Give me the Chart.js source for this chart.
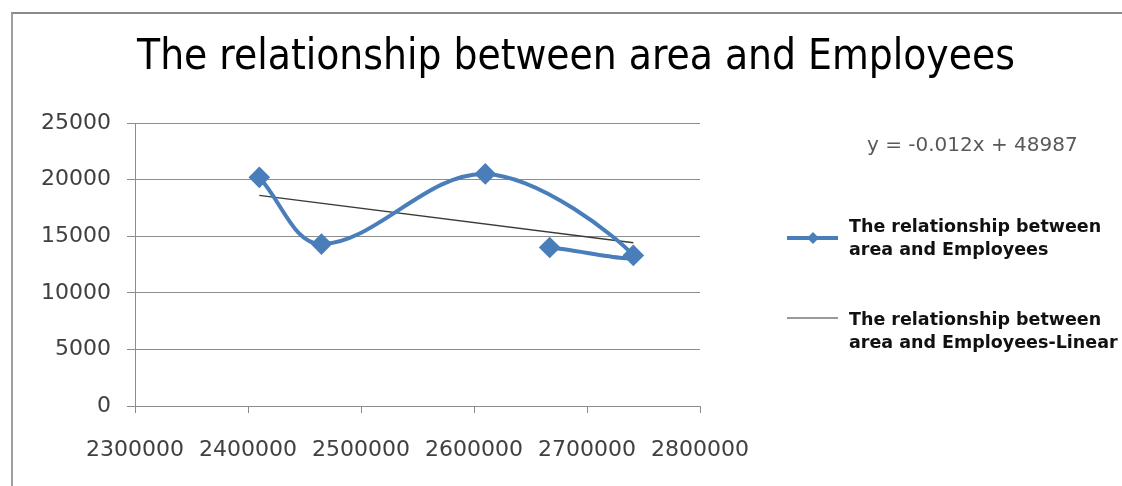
<!DOCTYPE html>
<html>
<head>
<meta charset="utf-8">
<script src="https://cdn.jsdelivr.net/npm/chart.js@4.4.1/dist/chart.umd.min.js"></script>
<style>
  html, body { margin: 0; padding: 0; background: #ffffff; }
  #wrap { position: relative; width: 1122px; height: 486px; overflow: hidden; }
  #frame { position: absolute; left: 11px; top: 12px; right: -4px; bottom: -4px;
           border-top: 2px solid #8a8a8a; border-left: 2px solid #a0a0a0; pointer-events: none; }
  canvas { position: absolute; left: 0; top: 0; }
</style>
</head>
<body>
<div id="wrap">
  <canvas id="chart" width="1122" height="486"></canvas>
  <div id="frame"></div>
</div>
<script>
// Area (x) and number of employees (y), in plotting order
const areaValues = [2410000, 2465000, 2610000, 2741000, 2667000];
const employeeValues = [20200, 14300, 20500, 13300, 14000];

// Linear trend line end points
const trendX = [2410000, 2741000];
const trendY = [18600, 14420];

const chartTitle = 'The relationship between area and Employees';
const seriesName = 'The relationship between area and Employees';
const trendName = 'The relationship between area and Employees-Linear';
const trendEquation = 'y = -0.012x + 48987';

const xTicks = [2300000, 2400000, 2500000, 2600000, 2700000, 2800000];
const yTicks = [0, 5000, 10000, 15000, 20000, 25000];

const blue = '#4a7ebb';
const gridGray = '#8c8c8c';
const tickFont = { family: "'DejaVu Sans'", size: 22 };

const seriesPoints = areaValues.map((x, i) => ({ x, y: employeeValues[i] }));
const trendPoints = trendX.map((x, i) => ({ x, y: trendY[i] }));

// Title, legend on the right and the trend equation
const decorations = {
  id: 'decorations',
  afterDraw(chart) {
    const ctx = chart.ctx;
    ctx.save();
    ctx.textBaseline = 'middle';

    // title
    ctx.fillStyle = '#000000';
    ctx.font = "42px 'DejaVu Sans Condensed', 'DejaVu Sans'";
    ctx.textAlign = 'center';
    ctx.fillText(chartTitle, 576, 58);

    // equation
    ctx.textAlign = 'left';
    ctx.fillStyle = '#595959';
    ctx.font = "20px 'DejaVu Sans'";
    ctx.fillText(trendEquation, 867, 146);

    const wrapName = (name) => {
      const cut = name.indexOf('area');
      return [name.slice(0, cut).trim(), name.slice(cut)];
    };
    const items = [
      { name: seriesName, lineY: 238, textY: 227, color: blue, width: 4, marker: true },
      { name: trendName, lineY: 318, textY: 320, color: '#9a9a9a', width: 2, marker: false }
    ];
    items.forEach(item => {
      ctx.strokeStyle = item.color;
      ctx.lineWidth = item.width;
      ctx.beginPath();
      ctx.moveTo(787, item.lineY);
      ctx.lineTo(838, item.lineY);
      ctx.stroke();
      if (item.marker) {
        ctx.fillStyle = item.color;
        ctx.beginPath();
        ctx.moveTo(813, item.lineY - 6);
        ctx.lineTo(819, item.lineY);
        ctx.lineTo(813, item.lineY + 6);
        ctx.lineTo(807, item.lineY);
        ctx.closePath();
        ctx.fill();
      }
      ctx.fillStyle = '#111111';
      ctx.font = "bold 17.5px 'DejaVu Sans'";
      const lines = wrapName(item.name);
      ctx.fillText(lines[0], 849, item.textY);
      ctx.fillText(lines[1], 849, item.textY + 23);
    });
    ctx.restore();
  }
};

new Chart(document.getElementById('chart'), {
  type: 'scatter',
  data: {
    datasets: [
      {
        label: seriesName,
        data: seriesPoints,
        showLine: true,
        tension: 0.36,
        borderColor: blue,
        borderWidth: 4,
        backgroundColor: blue,
        pointStyle: 'rectRot',
        pointRadius: 8,
        pointHoverRadius: 8,
        pointBackgroundColor: blue,
        pointBorderColor: blue,
        order: 0
      },
      {
        label: trendName,
        data: trendPoints,
        showLine: true,
        tension: 0,
        borderColor: '#3a3a3a',
        borderWidth: 1.3,
        pointRadius: 0,
        order: 1
      }
    ]
  },
  options: {
    responsive: false,
    animation: false,
    layout: { padding: { left: 0, top: 123, right: 422, bottom: 0 } },
    plugins: {
      legend: { display: false },
      tooltip: { enabled: false },
      title: { display: false }
    },
    scales: {
      x: {
        type: 'linear',
        min: xTicks[0],
        max: xTicks[xTicks.length - 1],
        afterBuildTicks: (axis) => { axis.ticks = xTicks.map(v => ({ value: v })); },
        afterFit: (axis) => { axis.height = 80; },
        ticks: {
          color: '#404040',
          font: tickFont,
          padding: 24,
          maxRotation: 0,
          autoSkip: false,
          callback: (v) => String(v)
        },
        grid: { drawOnChartArea: false, drawTicks: true, tickLength: 7, color: gridGray },
        border: { display: true, color: gridGray, width: 1 }
      },
      y: {
        type: 'linear',
        min: yTicks[0],
        max: yTicks[yTicks.length - 1],
        afterBuildTicks: (axis) => { axis.ticks = yTicks.map(v => ({ value: v })); },
        afterFit: (axis) => { axis.width = 135; },
        ticks: {
          color: '#404040',
          font: tickFont,
          padding: 16,
          autoSkip: false,
          callback: (v) => String(v)
        },
        grid: { drawOnChartArea: true, drawTicks: true, tickLength: 8, color: gridGray, lineWidth: 1 },
        border: { display: true, color: gridGray, width: 1 }
      }
    }
  },
  plugins: [decorations]
});
</script>
</body>
</html>
